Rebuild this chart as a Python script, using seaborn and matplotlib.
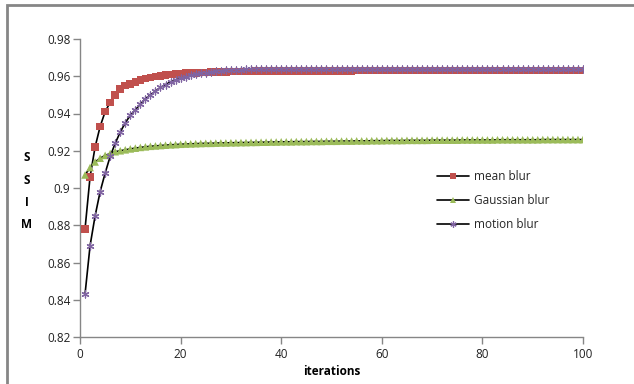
import matplotlib
matplotlib.use("Agg")
import matplotlib.pyplot as plt
import matplotlib.patches as mpatches
import seaborn as sns
import pandas as pd

iterations = list(range(1, 101))

mean_blur = [
    0.878, 0.906, 0.922, 0.933, 0.941, 0.946, 0.950, 0.953, 0.955, 0.956,
    0.957, 0.958, 0.9587, 0.9593, 0.9598, 0.9603, 0.9606, 0.9609, 0.9612, 0.9614,
    0.9616, 0.9618, 0.9619, 0.9620, 0.9621, 0.9622, 0.9623, 0.9624, 0.9624, 0.9625,
    0.9625, 0.9626, 0.9626, 0.9626, 0.9627, 0.9627, 0.9627, 0.9627, 0.9628, 0.9628,
    0.9628, 0.9628, 0.9628, 0.9628, 0.9629, 0.9629, 0.9629, 0.9629, 0.9629, 0.9629,
    0.9629, 0.9629, 0.9629, 0.9629, 0.9630, 0.9630, 0.9630, 0.9630, 0.9630, 0.9630,
    0.9630, 0.9630, 0.9630, 0.9630, 0.9630, 0.9630, 0.9630, 0.9630, 0.9630, 0.9630,
    0.9630, 0.9630, 0.9630, 0.9630, 0.9630, 0.9630, 0.9630, 0.9630, 0.9630, 0.9630,
    0.9630, 0.9630, 0.9630, 0.9630, 0.9630, 0.9630, 0.9630, 0.9630, 0.9630, 0.9630,
    0.9630, 0.9630, 0.9630, 0.9630, 0.9630, 0.9630, 0.9630, 0.9630, 0.9630, 0.9630,
]

gaussian_blur = [
    0.907, 0.911, 0.914, 0.916, 0.9175, 0.9185, 0.9195, 0.9200, 0.9205, 0.9210,
    0.9214, 0.9218, 0.9221, 0.9224, 0.9226, 0.9228, 0.9230, 0.9232, 0.9233, 0.9235,
    0.9236, 0.9237, 0.9238, 0.9239, 0.9240, 0.9240, 0.9241, 0.9242, 0.9242, 0.9243,
    0.9243, 0.9244, 0.9244, 0.9245, 0.9245, 0.9246, 0.9246, 0.9247, 0.9247, 0.9248,
    0.9248, 0.9248, 0.9249, 0.9249, 0.9249, 0.9250, 0.9250, 0.9250, 0.9251, 0.9251,
    0.9251, 0.9252, 0.9252, 0.9252, 0.9253, 0.9253, 0.9253, 0.9254, 0.9254, 0.9254,
    0.9255, 0.9255, 0.9255, 0.9255, 0.9256, 0.9256, 0.9256, 0.9256, 0.9256, 0.9257,
    0.9257, 0.9257, 0.9257, 0.9257, 0.9257, 0.9258, 0.9258, 0.9258, 0.9258, 0.9258,
    0.9258, 0.9258, 0.9259, 0.9259, 0.9259, 0.9259, 0.9259, 0.9259, 0.9259, 0.9259,
    0.9259, 0.9260, 0.9260, 0.9260, 0.9260, 0.9260, 0.9260, 0.9260, 0.9260, 0.9260,
]

motion_blur = [
    0.843, 0.869, 0.885, 0.898, 0.908, 0.917, 0.924, 0.930, 0.935, 0.939,
    0.942, 0.945, 0.948, 0.950, 0.952, 0.954, 0.9555, 0.957, 0.958, 0.959,
    0.9598, 0.9605, 0.9610, 0.9615, 0.9620, 0.9624, 0.9627, 0.9630, 0.9632, 0.9634,
    0.9635, 0.9636, 0.9637, 0.9638, 0.9638, 0.9639, 0.9639, 0.9639, 0.9640, 0.9640,
    0.9640, 0.9640, 0.9640, 0.9640, 0.9640, 0.9640, 0.9640, 0.9640, 0.9640, 0.9640,
    0.9640, 0.9640, 0.9640, 0.9640, 0.9640, 0.9640, 0.9640, 0.9640, 0.9640, 0.9640,
    0.9640, 0.9640, 0.9640, 0.9640, 0.9640, 0.9640, 0.9640, 0.9640, 0.9640, 0.9640,
    0.9640, 0.9640, 0.9640, 0.9640, 0.9640, 0.9640, 0.9640, 0.9640, 0.9640, 0.9640,
    0.9640, 0.9640, 0.9640, 0.9640, 0.9640, 0.9640, 0.9640, 0.9640, 0.9640, 0.9640,
    0.9640, 0.9640, 0.9640, 0.9640, 0.9640, 0.9640, 0.9640, 0.9640, 0.9640, 0.9640,
]

series_names = ["mean blur", "Gaussian blur", "motion blur"]
x_ticks = [0, 20, 40, 60, 80, 100]
y_ticks = [0.82, 0.84, 0.86, 0.88, 0.9, 0.92, 0.94, 0.96, 0.98]
y_tick_labels = ["0.82", "0.84", "0.86", "0.88", "0.9", "0.92", "0.94", "0.96", "0.98"]

sns.set_theme(style="white")
plt.rcParams["font.family"] = ["Open Sans", "DejaVu Sans"]

df = pd.DataFrame({
    "iterations": iterations * 3,
    "SSIM": mean_blur + gaussian_blur + motion_blur,
    "series": [series_names[0]] * 100 + [series_names[1]] * 100 + [series_names[2]] * 100,
})

fig = plt.figure(figsize=(6.34, 3.84), dpi=100)
ax = fig.add_axes([80 / 634, 1 - 337 / 384, 503 / 634, 298 / 384])

styles = {
    "mean blur": dict(marker="s", color="#C0504D", ms=5.5, mew=0),
    "Gaussian blur": dict(marker="^", color="#9BBB59", ms=5.5, mew=0),
    "motion blur": dict(marker=(6, 2, 0), color="#8064A2", ms=5, mew=0.9),
}

handles = []
for name in series_names:
    sub = df[df["series"] == name]
    st = styles[name]
    sns.lineplot(data=sub, x="iterations", y="SSIM", ax=ax, color="black",
                 linewidth=1.2, legend=False, zorder=2)
    kw = dict(marker=st["marker"], s=st["ms"] ** 2, linewidth=st["mew"],
              color=st["color"], legend=False, zorder=3)
    if st["mew"] > 0:
        kw["edgecolor"] = st["color"]
    else:
        kw["edgecolor"] = "none"
    sns.scatterplot(data=sub, x="iterations", y="SSIM", ax=ax, **kw)
    h, = ax.plot([], [], color="black", linewidth=1.2, marker=st["marker"],
                 markersize=st["ms"] - 0.5, markerfacecolor=st["color"],
                 markeredgecolor=st["color"], markeredgewidth=st["mew"])
    handles.append(h)

ax.set_xlim(0, 100)
ax.set_ylim(0.82, 0.98)
ax.set_xticks(x_ticks)
ax.set_xticklabels([str(t) for t in x_ticks])
ax.set_yticks(y_ticks)
ax.set_yticklabels(y_tick_labels)

for side in ["top", "right"]:
    ax.spines[side].set_visible(False)
for side in ["left", "bottom"]:
    ax.spines[side].set_color("#868686")
    ax.spines[side].set_linewidth(1.0)
ax.tick_params(axis="both", direction="out", length=5, width=1.0, color="#868686",
               labelsize=8.5, labelcolor="#222222", pad=3)
ax.tick_params(axis="y", pad=2)
ax.xaxis.set_ticks_position("bottom")
ax.yaxis.set_ticks_position("left")

ax.set_xlabel("iterations", fontsize=8.5, fontweight="bold", labelpad=2.5, color="black")
ax.set_ylabel("")

for i, letter in enumerate(["S", "S", "I", "M"]):
    fig.text(27 / 634, 1 - (158 + i * 22) / 384, letter, fontsize=8.5, fontweight="bold",
             ha="center", va="center", color="black")

leg = ax.legend(handles, series_names, loc="upper left",
                bbox_to_anchor=((432 - 80) / 503, (337 - 165) / 298),
                frameon=False, fontsize=8.5, handlelength=2.7, handletextpad=0.5,
                labelspacing=0.95, borderaxespad=0)

fig.patches.append(mpatches.Rectangle((7 / 634, -0.1), 1.2, (384 - 5) / 384 + 0.1 - 0.0,
                                      transform=fig.transFigure, fill=False,
                                      edgecolor="#868686", linewidth=2.0, zorder=0))

fig.savefig("out.png", dpi=100)
